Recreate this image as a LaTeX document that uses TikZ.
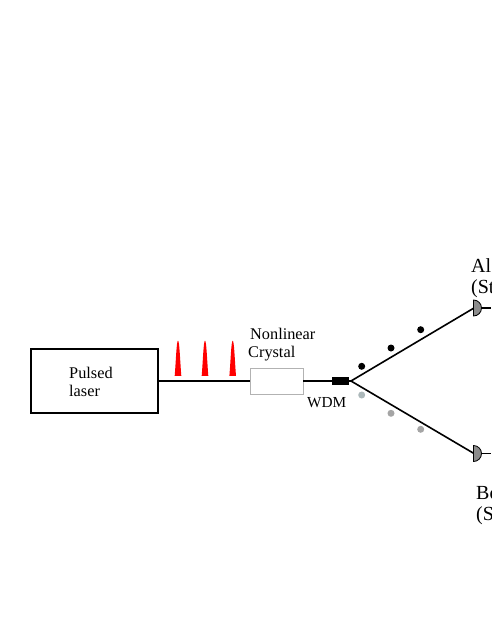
\documentclass[tikz,border=0pt]{standalone}
\usepackage{fontspec}
\setmainfont{Liberation Serif}
\definecolor{det}{gray}{0.55}
\definecolor{dotb}{RGB}{172,184,186}
\definecolor{dotg}{RGB}{165,165,165}
\tikzset{
  px/.style={x=1pt,y=-1pt},
  wire/.style={draw=black,line width=1.6pt},
  lab/.style={inner sep=0pt,anchor=base west,font=\fontsize{16.3}{16.3}\selectfont},
  big/.style={inner sep=0pt,anchor=base west,font=\fontsize{20}{20}\selectfont},
  pulse/.style={fill=red,draw=none},
  photon/.style={circle,inner sep=0pt,minimum size=7pt,fill=black},
  detector/.style={draw=black,line width=0.8pt,fill=det},
}
\begin{document}
\begin{tikzpicture}[px]
\path[use as bounding box,clip] (0,0) rectangle (491,635);
\node[draw=black,line width=1.6pt,minimum width=127pt,minimum height=64pt,inner sep=0pt] (laser) at (94.5,381) {};
\node[draw=black!30,line width=0.8pt,minimum width=53pt,minimum height=26pt,inner sep=0pt] (crystal) at (276.5,381) {};
\node[fill=black,minimum width=17pt,minimum height=8pt,inner sep=0pt] (wdm) at (340.5,381) {};
\coordinate (split) at (351,381);
\coordinate (alice) at (474,308);
\coordinate (bob) at (474,453.5);
\coordinate (aliceend) at (491,308);
\coordinate (bobend) at (491,453.5);
\draw[wire] (laser.east) -- (crystal.west);
\draw[wire] (crystal.east) -- (wdm.west);
\draw[wire] (wdm.east) -- (split);
\draw[wire,line join=miter] (alice) -- (split) -- (bob);
\draw[line width=1.2pt] (alice) -- (aliceend);
\draw[line width=1.2pt] (bob) -- (bobend);
\draw[detector] (473.5,300) arc[start angle=-90,end angle=90,x radius=8,y radius=8] -- cycle;
\draw[detector] (473.5,445.5) arc[start angle=-90,end angle=90,x radius=8,y radius=8] -- cycle;
\foreach \cx in {178,205,232.7}
  \fill[pulse] (\cx-3.3,375.8) .. controls (\cx-2,360) and (\cx-1.5,341) .. (\cx,340.7) .. controls (\cx+1.5,341) and (\cx+2,360) .. (\cx+3.3,375.8) -- cycle;
\node[photon] (b1) at (361.7,366.3) {};
\node[photon] (b2) at (391,348) {};
\node[photon] (b3) at (420.7,329.7) {};
\node[photon,fill=dotb] (g1) at (361.7,395) {};
\node[photon,fill=dotg] (g2) at (391,413.3) {};
\node[photon,fill=dotg] (g3) at (420.7,429.3) {};
\node[lab] (t1) at (69,378) {Pulsed};
\node[lab] (t2) at (69,396) {laser};
\node[lab] (t3) at (250,339) {Nonlinear};
\node[lab] (t4) at (248,357) {Crystal};
\node[lab,font=\fontsize{15.3}{15.3}\selectfont] (t5) at (307,407) {WDM};
\node[big] (t6) at (471,272) {Al};
\node[big] (t7) at (471,293.5) {(St};
\node[big] (t8) at (476,499) {Bo};
\node[big] (t9) at (476,520) {(S};
\end{tikzpicture}
\end{document}
